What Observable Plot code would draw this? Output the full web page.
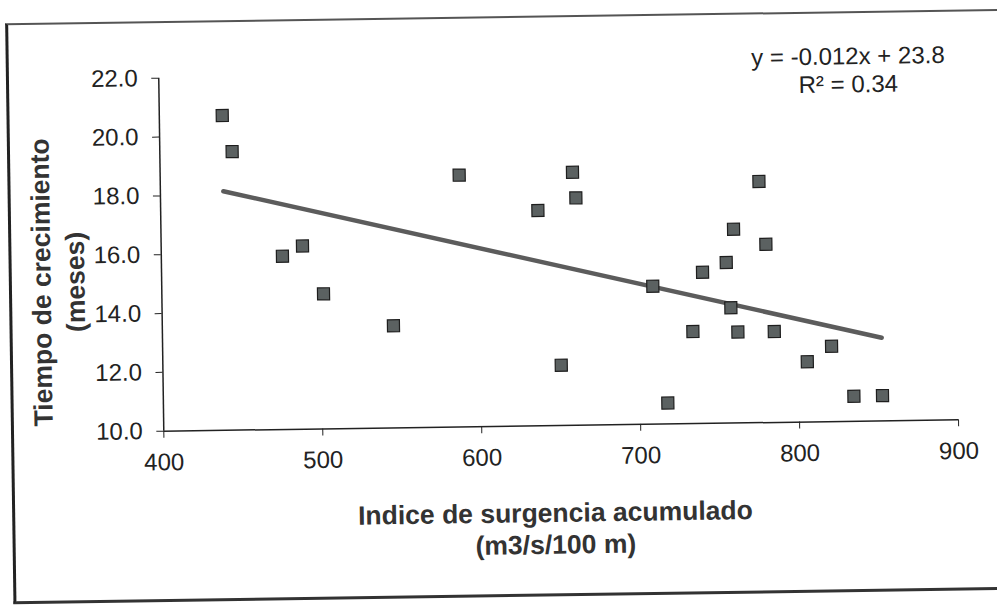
<!DOCTYPE html>
<html>
<head>
<meta charset="utf-8">
<script src="https://cdn.jsdelivr.net/npm/d3@7"></script>
<script src="https://cdn.jsdelivr.net/npm/@observablehq/plot@0.6"></script>
<style>
  html, body { margin: 0; padding: 0; background: #fff; }
  #page { position: relative; width: 997px; height: 606px; overflow: hidden; background: #fff; }
  #sheet {
    position: absolute; left: 0; top: 0; width: 997px; height: 606px;
    transform-origin: 163.3px 430.7px; transform: rotate(-0.82deg);
  }
  #frame {
    position: absolute; left: 10.7px; top: 21px; width: 1010px; height: 576px;
    border-left: 3px solid #222; border-top: 2px solid #555; border-bottom: 3px solid #333;
  }
  #sheet svg { position: absolute; left: 0; top: 0; }
</style>
</head>
<body>
<div id="page"><div id="sheet"><div id="frame"></div></div></div>
<script>
// Cumulative upwelling index (m3/s/100 m) and growth time (months)
const upwellingIndex = [439.6, 445.5, 476.2, 488.9, 501.7, 545.4, 588.1, 637.3, 650.6, 659.4,
  661.3, 708.9, 717.3, 733.7, 740.3, 755.3, 757.8, 760.2, 762.0, 776.6,
  780.4, 784.9, 805.4, 820.8, 834.4, 852.4];
const growthMonths = [20.70, 19.47, 15.89, 16.23, 14.59, 13.47, 18.56, 17.32, 12.05, 18.60,
  17.73, 14.69, 10.71, 13.13, 15.14, 15.46, 13.92, 16.59, 13.09, 18.20,
  16.06, 13.09, 12.05, 12.56, 10.85, 10.86];

const xTicks = [400, 500, 600, 700, 800, 900];
const yTicks = [10, 12, 14, 16, 18, 20, 22];
const equationText = "y = -0.012x + 23.8\nR² = 0.34";
const xTitle = "Indice de surgencia acumulado\n(m3/s/100 m)";
const yTitle = "Tiempo de crecimiento\n(meses)";

const data = upwellingIndex.map((x, i) => ({x, y: growthMonths[i]}));

const chart = Plot.plot({
  width: 997,
  height: 606,
  marginLeft: 163.3,
  marginRight: 38.9,
  marginTop: 77.7,
  marginBottom: 175.3,
  style: {fontFamily: "'Liberation Sans', Arial, sans-serif", fontSize: "24px", color: "#222", background: "transparent", overflow: "visible"},
  x: {domain: [400, 900], ticks: xTicks, tickSize: 7, tickPadding: 15, tickFormat: d => String(d), label: null},
  y: {domain: [10, 22], ticks: yTicks, tickSize: 7, tickPadding: 14, tickFormat: d => d.toFixed(1), label: null},
  marks: [
    Plot.ruleX([400], {stroke: "#222", strokeWidth: 1.5}),
    Plot.ruleY([10], {stroke: "#222", strokeWidth: 1.5}),
    Plot.linearRegressionY(data, {x: "x", y: "y", ci: 0, stroke: "#5c5c5c", strokeWidth: 4.5}),
    Plot.dot(data, {x: "x", y: "y", symbol: "square", r: 6.8, fill: "#5b6161", stroke: "#1e1e1e", strokeWidth: 1.2}),
    Plot.text([equationText], {frameAnchor: "top", dx: 292, dy: -24, lineAnchor: "top", textAnchor: "middle", lineHeight: 1.17, fontSize: 24, fill: "#222", text: d => d}),
    Plot.text([xTitle], {frameAnchor: "bottom", dx: -7, dy: 102, lineAnchor: "middle", textAnchor: "middle", lineHeight: 1.2, fontSize: 26.5, fontWeight: "bold", fill: "#333", text: d => d}),
    Plot.text([yTitle], {frameAnchor: "left", dx: -105, dy: 26, rotate: -90, lineAnchor: "middle", textAnchor: "middle", lineHeight: 1.28, fontSize: 26.5, fontWeight: "bold", fill: "#333", text: d => d})
  ]
});

document.getElementById("sheet").appendChild(chart);
</script>
</body>
</html>
